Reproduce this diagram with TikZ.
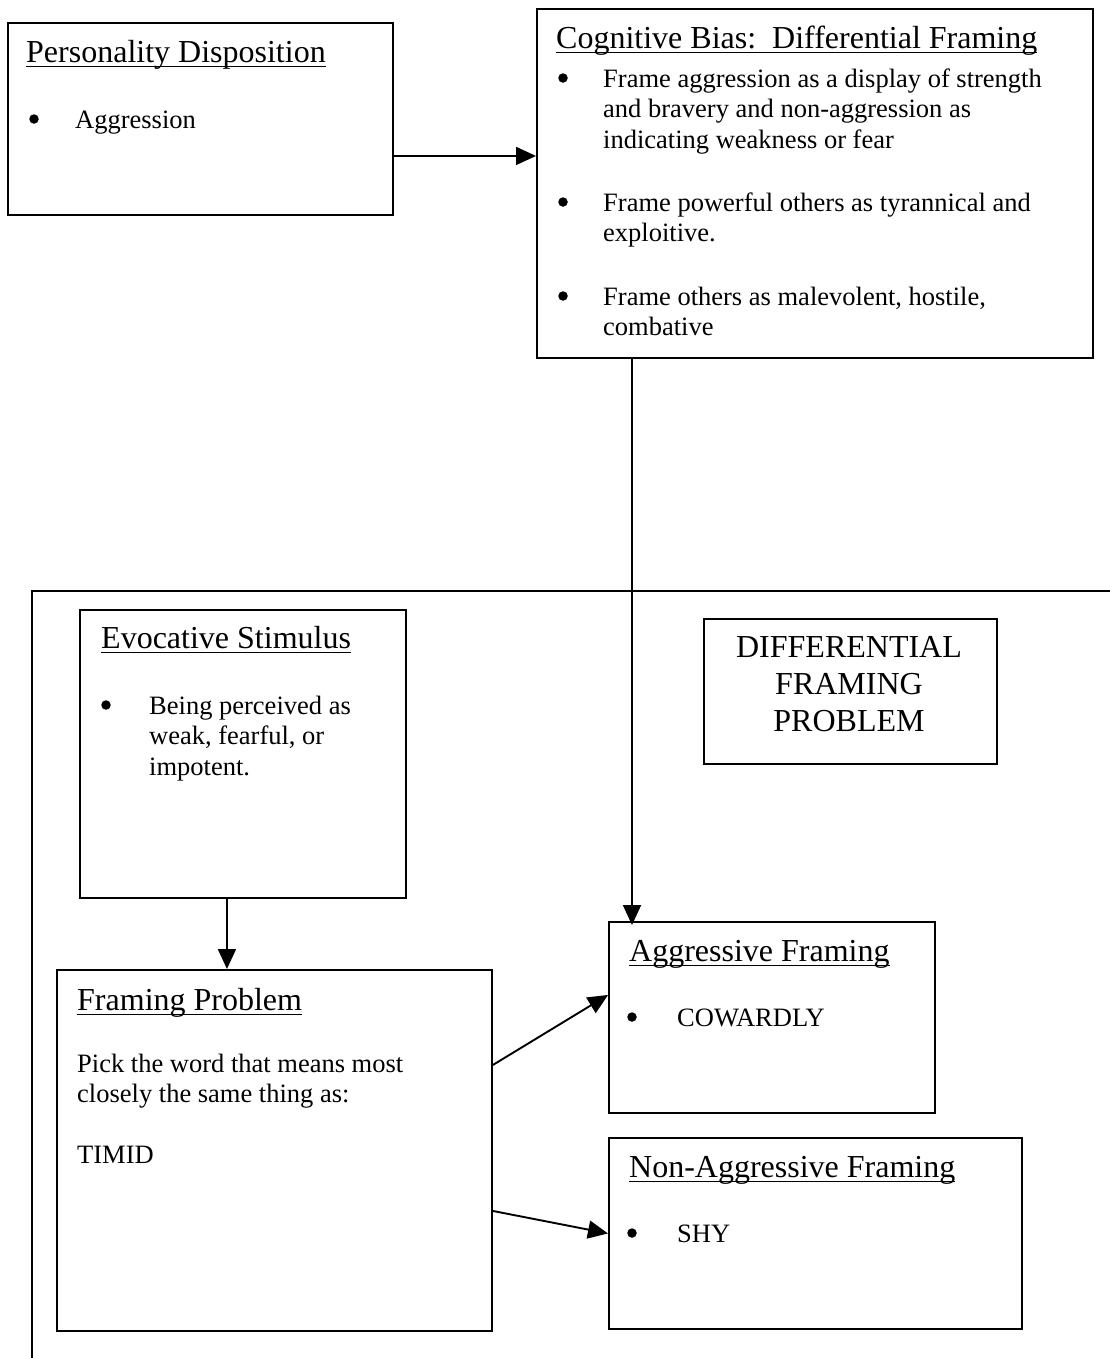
\documentclass[tikz,border=0pt]{standalone}
\usepackage{fontspec}
\setmainfont{Liberation Serif}
\usetikzlibrary{arrows.meta}
\newcommand\myul[1]{\setbox0\hbox{#1}\rlap{\rule[-5pt]{\wd0}{1.4pt}}\box0}
\begin{document}
\begin{tikzpicture}[x=1pt,y=-1pt,
  box/.style={draw, line width=1.9pt, fill=white, inner sep=0pt, anchor=north west, rectangle},
  ttl/.style={anchor=base west, inner sep=0pt, font=\fontsize{32}{37}\selectfont},
  txt/.style={anchor=base west, inner sep=0pt, font=\fontsize{26.5}{30.5}\selectfont},
  bul/.style={circle, fill=black, inner sep=0pt, minimum size=9.5pt, yshift=9pt},
  arr/.style={line width=1.9pt, -{Triangle[length=20pt,width=18pt]}},
  ln/.style={line width=1.9pt}]
\useasboundingbox (0,0) rectangle (1110,1358);
\fill[white] (0,0) rectangle (1110,1358);
% big open frame
\draw[ln] (32,1362) -- (32,591) -- (1114,591);
% boxes
\node[box, minimum width=385pt, minimum height=192pt] (pd) at (7,22) {};
\node[box, minimum width=556pt, minimum height=349pt] (cb) at (536,8) {};
\node[box, minimum width=326pt, minimum height=288pt] (es) at (79,609) {};
\node[box, minimum width=293pt, minimum height=145pt] (dfp) at (703,618) {};
\node[box, minimum width=435pt, minimum height=361pt] (fp) at (56,969) {};
\node[box, minimum width=326pt, minimum height=191pt] (af) at (608,921) {};
\node[box, minimum width=413pt, minimum height=191pt] (naf) at (608,1137) {};
% Personality Disposition
\node[ttl] (pdT) at (26,62) {\myul{Personality Disposition}};
\node[bul] (pdB) at (34,128) {};
\node[txt] (pdL) at (75,128) {Aggression};
% Cognitive Bias
\node[ttl] (cbT) at (556,48) {\myul{Cognitive Bias:~~Differential Framing}};
\node[bul] (cbB1) at (563,87) {};
\node[txt] (cbL1) at (603,87) {\vtop{\hbox{Frame aggression as a display of strength}\hbox{and bravery and non-aggression as}\hbox{indicating weakness or fear}}};
\node[bul] (cbB2) at (563,211) {};
\node[txt] (cbL2) at (603,211) {\vtop{\hbox{Frame powerful others as tyrannical and}\hbox{exploitive.}}};
\node[bul] (cbB3) at (563,305) {};
\node[txt] (cbL3) at (603,305) {\vtop{\hbox{Frame others as malevolent, hostile,}\hbox{combative}}};
% Evocative Stimulus
\node[ttl] (esT) at (101,648) {\myul{Evocative Stimulus}};
\node[bul] (esB) at (106,714) {};
\node[txt] (esL) at (149,714) {\vtop{\hbox{Being perceived as}\hbox{weak, fearful, or}\hbox{impotent.}}};
% Differential framing problem
\node[anchor=base, inner sep=0pt, font=\fontsize{32}{37}\selectfont] (dfpT) at (849,657)
  {\begin{tabular}[t]{@{}c@{}}DIFFERENTIAL\\FRAMING\\PROBLEM\end{tabular}};
% Framing Problem
\node[ttl] (fpT) at (77,1010) {\myul{Framing Problem}};
\node[txt] (fpL) at (77,1072) {\vtop{\hbox{Pick the word that means most}\hbox{closely the same thing as:}\hbox{}\hbox{TIMID}}};
% Aggressive Framing
\node[ttl] (afT) at (629,961) {\myul{Aggressive Framing}};
\node[bul] (afB) at (632,1026) {};
\node[txt] (afL) at (677,1026) {COWARDLY};
% Non-Aggressive Framing
\node[ttl] (nafT) at (629,1177) {\myul{Non-Aggressive Framing}};
\node[bul] (nafB) at (632,1242) {};
\node[txt] (nafL) at (677,1242) {SHY};
% connectors
\draw[arr] ([yshift=-37pt]pd.east) -- ([yshift=-37pt]pd.east -| cb.west);
\coordinate (afIn) at ([xshift=24pt]af.north west);
\draw[arr] (afIn |- cb.south) -- ([yshift=-4pt]afIn);
\coordinate (esOut) at ([xshift=-16pt]es.south);
\draw[arr] (esOut) -- (esOut |- fp.north);
\draw[arr] ([yshift=85.5pt]fp.east) -- ([yshift=22.5pt]af.west);
\draw[arr] ([yshift=-60.5pt]fp.east) -- (naf.west);
\end{tikzpicture}
\end{document}
